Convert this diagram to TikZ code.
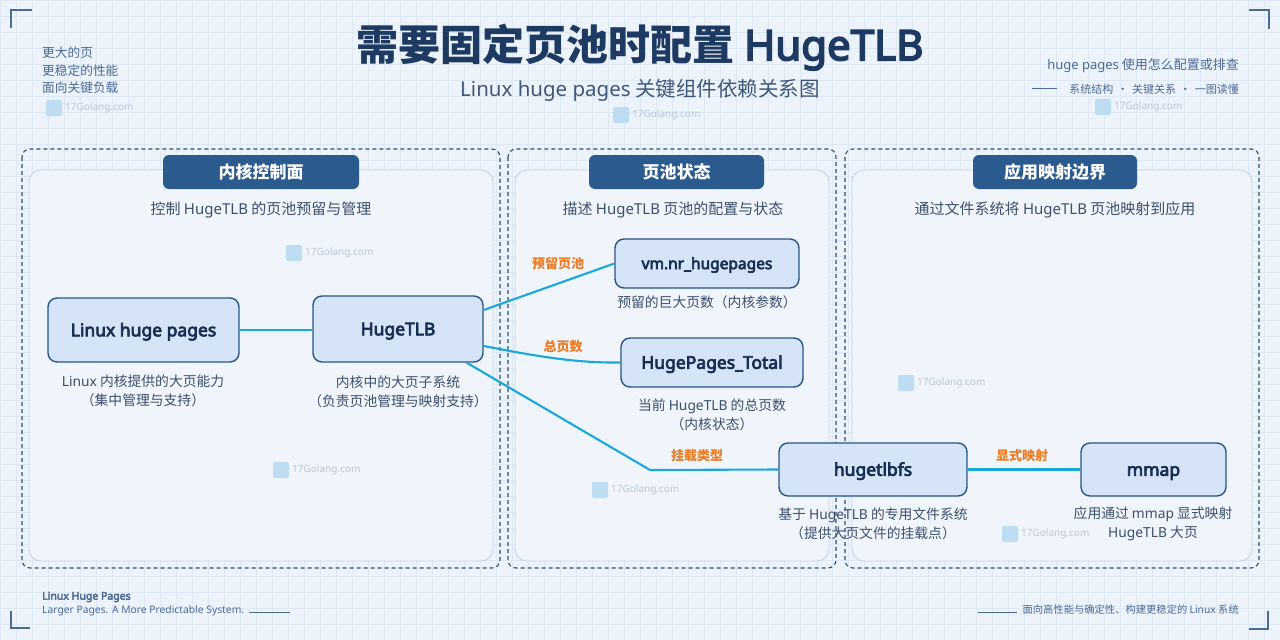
\documentclass[tikz,border=0pt]{standalone}
\usepackage{fontspec}
\setmainfont{Noto Sans CJK SC}
\newfontfamily\lat{Noto Sans}[AutoFakeBold=4]
\usetikzlibrary{calc}
\definecolor{bg}{HTML}{EDF3FA}
\definecolor{gridc}{HTML}{DEE8F3}
\definecolor{navy}{HTML}{1E3A63}
\definecolor{dashc}{HTML}{2E4F7A}
\definecolor{innerb}{HTML}{C3D5E8}
\definecolor{innerf}{HTML}{F0F5FB}
\definecolor{hdrc}{HTML}{2B5A8E}
\definecolor{nodef}{HTML}{D5E5F7}
\definecolor{nodeb}{HTML}{2A5588}
\definecolor{nodet}{HTML}{172E52}
\definecolor{edgec}{HTML}{1AA7D9}
\definecolor{lblc}{HTML}{EE7B22}
\definecolor{descc}{HTML}{3C4F6B}
\definecolor{sidec}{HTML}{4D6A96}
\definecolor{wmicon}{HTML}{BFDDF2}
\definecolor{wmtext}{HTML}{B9C8D8}
\begin{document}
\begin{tikzpicture}[x=1pt,y=-1pt,
  box/.style={draw=nodeb, fill=nodef, line width=1.4pt, rounded corners=9pt, text=nodet,
    font=\lat\fontsize{17.5}{22}\selectfont\bfseries, inner sep=0pt, text height=12.5pt, text depth=0pt},
  hdr/.style={fill=hdrc, rounded corners=6pt, text=white, font=\fontsize{17}{20}\selectfont\bfseries,
    minimum height=34pt, inner sep=0pt},
  outerp/.style={draw=dashc, line width=1.1pt, dash pattern=on 4pt off 3pt, rounded corners=8pt},
  innerp/.style={draw=innerb, fill=innerf, line width=0.9pt, rounded corners=12pt},
  sub/.style={text=descc, font=\fontsize{15}{17}\selectfont},
  desc/.style={text=descc, font=\fontsize{13.8}{19.5}\selectfont, align=center},
  lbl/.style={text=lblc, font=\fontsize{13}{15}\selectfont\bfseries},
  edge/.style={draw=edgec, line width=2.1pt},
  side/.style={text=sidec, font=\fontsize{12.7}{17.5}\selectfont},
  corner/.style={draw=sidec, line width=1.1pt},
  wmk/.pic={\fill[wmicon, rounded corners=2pt] (-8,-8) rectangle (8,8);
    \node[anchor=west, text=wmtext, font=\lat\fontsize{10}{12}\selectfont, inner sep=0pt] at (11,0) {17Golang.com};}
]
\useasboundingbox (0,0) rectangle (1280,640);
\fill[bg] (0,0) rectangle (1280,640);
\foreach \x in {0,16,...,1280} \draw[gridc, line width=0.5pt] (\x,0) -- (\x,640);
\foreach \y in {0,16,...,640} \draw[gridc, line width=0.5pt] (0,\y) -- (1280,\y);

% corner marks
\draw[corner] (11,28) -- (11,10) -- (32,10);
\draw[corner] (1249,10) -- (1269,10) -- (1269,29);
\draw[corner] (11,611) -- (11,628) -- (30,628);
\draw[corner] (1249,629) -- (1268,629) -- (1268,611);

% top-left side text
\node[side, anchor=north west, align=left, inner sep=0pt] (tl) at (42,47) {更大的页\\更稳定的性能\\面向关键负载};

% title
\node[text=navy, font=\fontsize{42}{48}\selectfont\bfseries, inner sep=0pt] (title) at (640,47) {需要固定页池时配置 {\lat HugeTLB}};
\node[text=navy!85, font=\fontsize{20.5}{24}\selectfont, inner sep=0pt] (subtitle) at (640,90) {{\lat Linux huge pages} 关键组件依赖关系图};

% top right
\node[side, anchor=east, inner sep=0pt, font=\fontsize{13}{15}\selectfont] (tr1) at (1239,66) {{\lat huge pages} 使用怎么配置或排查};
\node[side, anchor=east, inner sep=0pt, font=\fontsize{11}{13}\selectfont] (tr2) at (1239,89) {系统结构\hspace{0.35em}·\hspace{0.35em}关键关系\hspace{0.35em}·\hspace{0.35em}一图读懂};
\coordinate (trl1) at (1032,88);
\coordinate (trl2) at (1057,88);
\draw[sidec, line width=0.8pt] (trl1) -- (trl2);

% bottom left / right
\node[side, anchor=west, inner sep=0pt, font=\lat\fontsize{10.5}{13}\selectfont\bfseries] (bl1) at (42,597) {Linux Huge Pages};
\node[side, anchor=west, inner sep=0pt, font=\lat\fontsize{10.3}{13}\selectfont] (bl2) at (42,611) {Larger Pages. A More Predictable System.};
\coordinate (bll1) at (249,612);
\coordinate (bll2) at (290,612);
\draw[sidec, line width=0.8pt] (bll1) -- (bll2);
\node[side, anchor=east, inner sep=0pt, font=\fontsize{10.3}{13}\selectfont] (br1) at (1239,610) {面向高性能与确定性、构建更稳定的 {\lat Linux} 系统};
\coordinate (brl1) at (978,612);
\coordinate (brl2) at (1017,612);
\draw[sidec, line width=0.8pt] (brl1) -- (brl2);

% panels
\draw[outerp] (22,149) rectangle (500,568);
\draw[innerp] (29,170) rectangle (493,561);
\draw[outerp] (508,149) rectangle (836,568);
\draw[innerp] (515,170) rectangle (829,561);
\draw[outerp] (845,149) rectangle (1259,568);
\draw[innerp] (852,170) rectangle (1252,561);

\node[hdr, minimum width=196pt] (h1) at (261,172) {内核控制面};
\node[hdr, minimum width=175pt] (h2) at (676.5,172) {页池状态};
\node[hdr, minimum width=164pt] (h3) at (1055,172) {应用映射边界};

\node[sub] (s1) at (261,210) {控制 {\lat HugeTLB} 的页池预留与管理};
\node[sub] (s2) at (673,210) {描述 {\lat HugeTLB} 页池的配置与状态};
\node[sub] (s3) at (1055,210) {通过文件系统将 {\lat HugeTLB} 页池映射到应用};

% watermarks
\pic at (54,108) {wmk};
\pic at (621,115) {wmk};
\pic at (1103,107) {wmk};
\pic at (294,253) {wmk};
\pic at (281,470) {wmk};
\pic at (600,490) {wmk};
\pic at (906,383) {wmk};
\pic at (1010,534) {wmk};

% nodes
\node[box, minimum width=191pt, minimum height=64pt] (lhp) at (143.5,330) {Linux huge pages};
\node[box, minimum width=170pt, minimum height=66pt] (htlb) at (398,329) {HugeTLB};
\node[box, minimum width=184pt, minimum height=49pt, font=\lat\fontsize{15.5}{20}\selectfont\bfseries, text height=11.1pt] (vmnr) at (707,263.5) {vm.nr\_hugepages};
\node[box, minimum width=182pt, minimum height=49pt] (hpt) at (712,362.5) {HugePages\_Total};
\node[box, minimum width=188pt, minimum height=53pt] (hfs) at (873,469.5) {hugetlbfs};
\node[box, minimum width=145pt, minimum height=53pt] (mmap) at (1153.5,469.5) {mmap};

% descriptions
\node[desc] (d1) at (143,391) {{\lat Linux} 内核提供的大页能力\\（集中管理与支持）};
\node[desc] (d2) at (398,392) {内核中的大页子系统\\（负责页池管理与映射支持）};
\node[desc] (d3) at (707,302) {预留的巨大页数（内核参数）};
\node[desc] (d4) at (712,415) {当前 {\lat HugeTLB} 的总页数\\（内核状态）};
\node[desc] (d5) at (873,524) {基于 {\lat HugeTLB} 的专用文件系统\\（提供大页文件的挂载点）};
\node[desc] (d6) at (1153,524) {应用通过 {\lat mmap} 显式映射\\{\lat HugeTLB} 大页};

% edges
\coordinate (bend) at (650,470);
\draw[edge] (lhp.east) -- (lhp.east -| htlb.west);
\draw[edge] ([yshift=19pt]htlb.east) -- (vmnr.west);
\draw[edge] ([yshift=-17pt]htlb.east) .. controls (545,358) and (580,363) .. (hpt.west);
\draw[edge] ([xshift=-17pt]htlb.south east) -- (bend) -- (hfs.west);
\draw[edge] (hfs.east) -- (mmap.west);

% edge labels
\node[lbl] (l1) at (558,264) {预留页池};
\node[lbl] (l2) at (563,347) {总页数};
\node[lbl] (l3) at (697,456) {挂载类型};
\node[lbl] (l4) at (1022,456) {显式映射};
\end{tikzpicture}
\end{document}
